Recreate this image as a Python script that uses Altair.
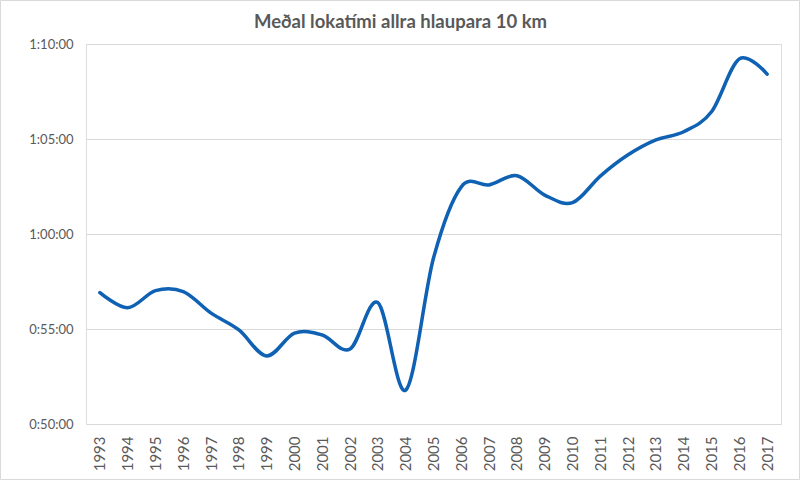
import altair as alt
import pandas as pd

years = [str(y) for y in range(1993, 2018)]
times = ["0:56:55", "0:56:07", "0:57:01", "0:56:58", "0:55:50", "0:54:57", "0:53:35",
         "0:54:47", "0:54:41", "0:53:57", "0:56:23", "0:51:47", "0:58:44", "1:02:29",
         "1:02:35", "1:03:04", "1:02:03", "1:01:39", "1:03:03", "1:04:10", "1:04:57",
         "1:05:23", "1:06:26", "1:09:13", "1:08:25"]
y_ticks = ["0:50:00", "0:55:00", "1:00:00", "1:05:00", "1:10:00"]
title = "Meðal lokatími allra hlaupara 10 km"


def to_sec(s):
    h, m, sec = s.split(":")
    return int(h) * 3600 + int(m) * 60 + int(sec)


df = pd.DataFrame({"Ár": years, "sek": [to_sec(t) for t in times]})
one = pd.DataFrame({"t": [title]})
tick_vals = [to_sec(t) for t in y_ticks]

W, H = 695, 380
GRAY = "#595959"

line = alt.Chart(df).mark_line(
    interpolate="cardinal", color="#0E61B3", strokeWidth=3.5, strokeCap="round"
).encode(
    x=alt.X("Ár:O", sort=years, title=None,
            scale=alt.Scale(type="point", padding=0.5),
            axis=alt.Axis(labelAngle=-90, labelFontSize=15, labelColor=GRAY,
                          labelFont="Lato", ticks=False, domain=False,
                          labelPadding=12, grid=False)),
    y=alt.Y("sek:Q", title=None,
            scale=alt.Scale(domain=[tick_vals[0], tick_vals[-1]], nice=False, zero=False),
            axis=alt.Axis(values=tick_vals,
                          labelExpr="utcFormat(datum.value * 1000, '%-H:%M:%S')",
                          labelFontSize=13, labelColor=GRAY, labelFont="Lato",
                          ticks=False, domain=False, labelPadding=13,
                          grid=True, gridColor="#D9D9D9", gridWidth=1)),
)

border = alt.Chart(one).mark_rect(fill=None, stroke="#D9D9D9", strokeWidth=1).encode(
    x=alt.value(-85.5), x2=alt.value(W + 18.5),
    y=alt.value(-43.5), y2=alt.value(H + 55.5),
)

title_text = alt.Chart(one).mark_text(
    font="Lato", fontSize=18.5, fontWeight="bold", color=GRAY,
    align="center", baseline="alphabetic"
).encode(
    x=alt.value(W / 2 - 33), y=alt.value(-16), text="t:N"
)

chart = alt.layer(border, line, title_text).properties(
    width=W, height=H,
    autosize=alt.AutoSizeParams(type="none"),
    padding={"left": 86, "top": 44, "right": 19, "bottom": 56},
).configure_view(stroke=None).configure(background="white")

chart.save("out.html", embed_options={"renderer": "svg", "actions": False})
